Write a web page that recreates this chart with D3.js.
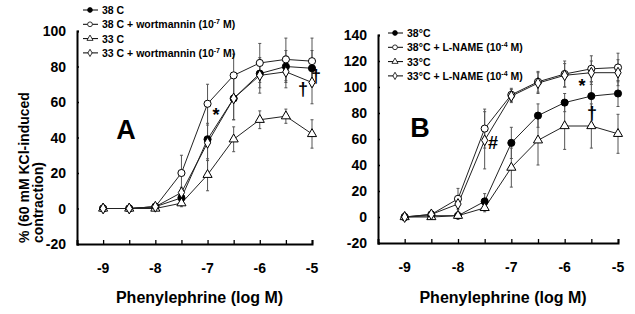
<!DOCTYPE html>
<html>
<head>
<meta charset="utf-8">
<script src="https://cdn.jsdelivr.net/npm/d3@7"></script>
<style>
  body { margin: 0; background: #fff; }
  text { font-family: "Liberation Sans", Arial, sans-serif; font-weight: bold; fill: #000; }
</style>
</head>
<body>
<div id="chart"></div>
<script>
// log concentrations of phenylephrine
const doses = [-9, -8.5, -8, -7.5, -7, -6.5, -6, -5.5, -5];

// panel A
const a38 = [0, 0, 1, 6, 39, 62, 76, 80, 79];
const a38Err = [0, 0, 1, 3, 21, 12, 8, 9, 10];
const a38W = [0, 0, 1, 20, 59, 75, 82, 84, 83];
const a38WErr = [0, 0, 1, 10, 11, 12, 11, 12, 13];
const a33 = [0, 0, 0, 3, 19, 39, 50, 52, 42];
const a33Err = [0, 0, 1, 2, 9, 7, 5, 4, 8];
const a33W = [0, 0, 1, 9, 37, 62, 75, 77, 71];
const a33WErr = [0, 0, 1, 3, 10, 12, 10, 9, 12];

// panel B
const b38 = [0, 1, 1, 12, 57, 78, 88, 93, 95];
const b38Err = [0, 1, 2, 6, 12, 9, 7, 11, 10];
const b38L = [0, 2, 14, 68, 94, 104, 110, 114, 115];
const b38LErr = [0, 1, 8, 15, 5, 8, 10, 10, 11];
const b33 = [0, 0, 1, 7, 38, 59, 70, 70, 64];
const b33Err = [0, 1, 2, 3, 15, 19, 18, 17, 15];
const b33L = [0, 2, 10, 59, 93, 103, 109, 111, 111];
const b33LErr = [0, 1, 6, 22, 5, 8, 9, 9, 10];

const xTicks = [-9, -8, -7, -6, -5];
const yTicksA = [-20, 0, 20, 40, 60, 80, 100];
const yTicksB = [-20, 0, 20, 40, 60, 80, 100, 120, 140];

const width = 635, height = 314;
const svg = d3.select("#chart").append("svg")
  .attr("width", width)
  .attr("height", height);

function panel(cfg) {
  const x = d3.scaleLinear().domain([-9.5, -5]).range(cfg.xr);
  const y = d3.scaleLinear().domain(cfg.yd).range(cfg.yr);
  const g = svg.append("g");

  // axes
  const xAxis = d3.axisBottom(x)
    .tickValues(d3.range(-9, -4.99, 0.5))
    .tickSize(-4).tickFormat("");
  g.append("g").attr("transform", `translate(0,${cfg.yr[0]})`).call(xAxis);
  const yAxis = d3.axisLeft(y).tickValues(cfg.yTicks).tickSize(-2).tickFormat("");
  g.append("g").attr("transform", `translate(${cfg.xr[0]},0)`).call(yAxis);
  g.selectAll(".domain").attr("stroke", "#000").attr("stroke-width", 2);
  g.selectAll(".tick line").attr("stroke", "#000").attr("stroke-width", 1.3);

  g.selectAll(".xlab").data(xTicks).join("text")
    .attr("x", d => x(d)).attr("y", cfg.yr[0] + 29)
    .attr("text-anchor", "middle").style("font-size", "14px")
    .text(d => d);
  g.selectAll(".ylab").data(cfg.yTicks).join("text")
    .attr("x", cfg.xr[0] - 11).attr("y", d => y(d) + 5)
    .attr("text-anchor", "end").style("font-size", "14px")
    .text(d => d);

  g.append("text")
    .attr("x", (x(-9.5) + x(-5)) / 2 + 5).attr("y", 303)
    .attr("text-anchor", "middle").style("font-size", "16px")
    .text("Phenylephrine (log M)");

  // series: lines, error bars, markers
  cfg.series.forEach(s => {
    const pts = doses.map((d, i) => ({ x: d, v: s.vals[i], e: s.err[i] }));
    g.append("path").datum(pts)
      .attr("fill", "none").attr("stroke", "#222").attr("stroke-width", 1)
      .attr("d", d3.line().x(d => x(d.x)).y(d => y(d.v)));
    const eb = g.append("g").attr("stroke", "#555").attr("stroke-width", 1);
    pts.filter(d => d.e > 1.5).forEach(d => {
      eb.append("line").attr("x1", x(d.x)).attr("x2", x(d.x))
        .attr("y1", y(d.v - d.e)).attr("y2", y(d.v + d.e));
      [d.v - d.e, d.v + d.e].forEach(v => {
        eb.append("line").attr("x1", x(d.x) - 1.5).attr("x2", x(d.x) + 1.5)
          .attr("y1", y(v)).attr("y2", y(v));
      });
    });
  });
  cfg.series.forEach(s => {
    g.selectAll(null).data(doses.map((d, i) => [d, s.vals[i]])).join("path")
      .attr("transform", d => `translate(${x(d[0])},${y(d[1])})`)
      .attr("d", d3.symbol(s.shape, s.size)())
      .attr("fill", s.fill).attr("stroke", "#000").attr("stroke-width", 1);
  });

  // legend
  const lg = g.append("g");
  cfg.series.forEach((s, i) => {
    const ly = cfg.legY + i * cfg.legStep;
    lg.append("line").attr("x1", cfg.legX).attr("x2", cfg.legX + 15)
      .attr("y1", ly).attr("y2", ly).attr("stroke", "#000").attr("stroke-width", 1);
    lg.append("path").attr("transform", `translate(${cfg.legX + 7},${ly})`)
      .attr("d", d3.symbol(s.shape, s.size * 0.45)())
      .attr("fill", s.fill).attr("stroke", "#000").attr("stroke-width", 0.8);
    const t = lg.append("text").attr("x", cfg.legX + 19).attr("y", ly + 4)
      .style("font-size", "10.5px");
    t.append("tspan").text(s.name);
    if (s.sup) {
      t.append("tspan").attr("dy", -4).style("font-size", "7px").text(s.sup);
      t.append("tspan").attr("dy", 4).text(" M)");
    }
  });

  g.append("text").attr("x", cfg.letter[0]).attr("y", cfg.letter[1])
    .attr("text-anchor", "middle").style("font-size", "27px").text(cfg.letterText);
  cfg.marks.forEach(m => {
    g.append("text").attr("x", m[0]).attr("y", m[1])
      .attr("text-anchor", "middle").style("font-size", "18px").text(m[2]);
  });
}

panel({
  xr: [77, 312], yd: [-20, 100], yr: [244, 31], yTicks: yTicksA,
  legX: 83, legY: 10, legStep: 14.3,
  letter: [126, 139], letterText: "A",
  marks: [[216, 121, "*"], [303, 95, "†"], [316, 82, "†"]],
  series: [
    { name: "38 C", vals: a38, err: a38Err, shape: d3.symbolCircle, size: 40, fill: "#000" },
    { name: "38 C + wortmannin (10", sup: "-7", vals: a38W, err: a38WErr, shape: d3.symbolCircle, size: 40, fill: "#fff" },
    { name: "33 C", vals: a33, err: a33Err, shape: d3.symbolTriangle, size: 36, fill: "#fff" },
    { name: "33 C + wortmannin (10", sup: "-7", vals: a33W, err: a33WErr, shape: d3.symbolDiamond, size: 34, fill: "#fff" }
  ]
});

panel({
  xr: [378, 618], yd: [-20, 140], yr: [243, 35], yTicks: yTicksB,
  legX: 388, legY: 33, legStep: 14.3,
  letter: [420, 137], letterText: "B",
  marks: [[582, 92, "*"], [592, 119, "†"], [493, 149, "#"]],
  series: [
    { name: "38°C", vals: b38, err: b38Err, shape: d3.symbolCircle, size: 40, fill: "#000" },
    { name: "38°C + L-NAME (10", sup: "-4", vals: b38L, err: b38LErr, shape: d3.symbolCircle, size: 40, fill: "#fff" },
    { name: "33°C", vals: b33, err: b33Err, shape: d3.symbolTriangle, size: 36, fill: "#fff" },
    { name: "33°C + L-NAME (10", sup: "-4", vals: b33L, err: b33LErr, shape: d3.symbolDiamond, size: 34, fill: "#fff" }
  ]
});

// shared y title (panel A)
const yt = svg.append("text")
  .attr("transform", "translate(29,243) rotate(-90)")
  .style("font-size", "14px");
yt.append("tspan").attr("x", 0).attr("y", 0).text("% (60 mM KCl-induced");
yt.append("tspan").attr("x", 0).attr("y", 14).text("contraction)");
</script>
</body>
</html>
